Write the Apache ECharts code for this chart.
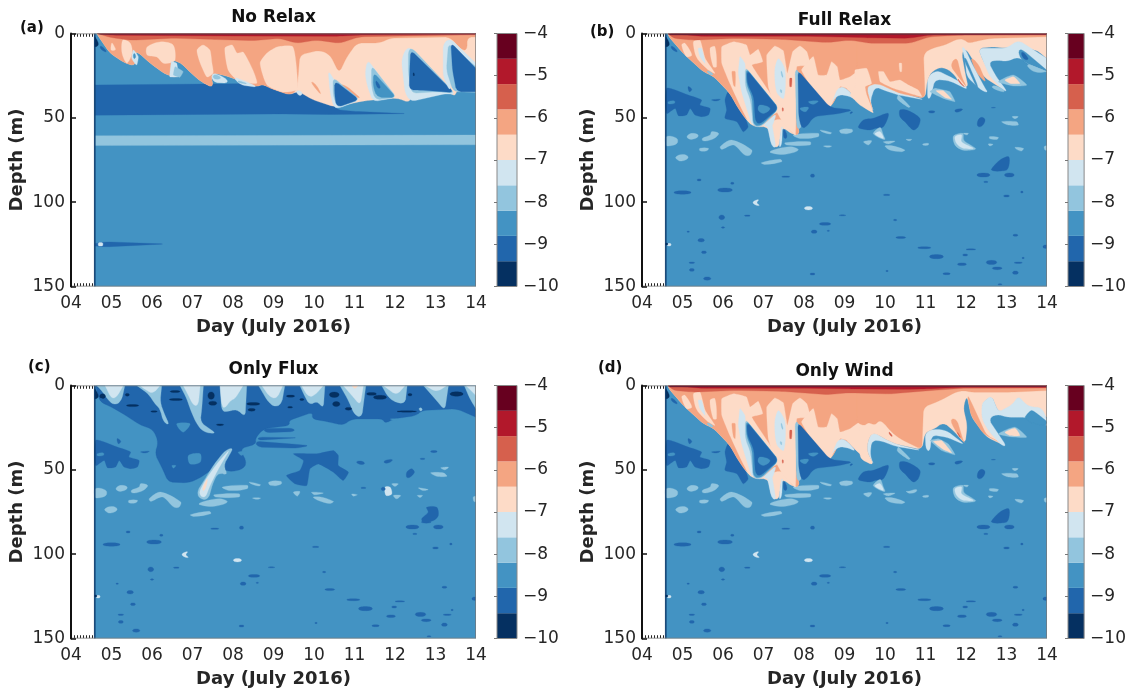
<!DOCTYPE html>
<html><head><meta charset="utf-8">
<style>html,body{margin:0;padding:0;background:#fff}#c{width:1129px;height:694px}</style>
<script src="https://cdn.jsdelivr.net/npm/echarts@6/dist/echarts.min.js"></script>
</head><body><div id="c"></div>
<script>
// ---------- labels and scales ----------
const titles = ['No Relax','Full Relax','Only Flux','Only Wind'];
const panelTags = ['(a)','(b)','(c)','(d)'];
const xName = 'Day (July 2016)';
const yName = 'Depth (m)';
const colorLevels = [-10,-9.4,-8.8,-8.2,-7.6,-7,-6.4,-5.8,-5.2,-4.6,-4];
const palette = ['#053061','#2166ac','#4393c3','#92c5de','#d1e5f0','#fddbc7','#f4a582','#d6604d','#b2182b','#67001f'];

// ---------- contour regions: [colour band, [day,depth,day,depth,...], smoothing] ----------
const baseField = [[2,[4.58,0,14,0,14,150,4.58,150]]];
const leftEdge = [[0,[4.575,0,4.6,0,4.6,150,4.575,150]],[0,[4.59,1.9,4.69,5.8,4.65,7.8,4.59,7.8]],[1,[4.73,6.8,4.9,10.8,4.82,10.8,4.71,8.8]]];
const dottedTicks = [[-2,[4,1,4.58,1]],[-2,[4,149,4.58,149]]];
const frameLine = [[-1,[4,0,14,0,14,150,4,150]]];

// small lenses shared by the runs with surface forcing: [band, day, depth, half width (days), half height (m)]
const deepSpots = [
[1,5,94.3,.21,1],[1,6.05,92.8,.18,1.2],[1,5.41,86.8,.05,.6],[1,6.23,88.8,.04,.6],[1,7.55,84.9,.1,.4],[1,8.21,84.3,.05,1],
[1,12.43,83.9,.16,1.2],[1,12.77,81,.12,.6],[1,13.07,83.9,.12,1.2],[1,12.49,88,.05,.4],[1,13,96.3,.07,.6],[1,13.38,94,.03,.6],
[1,10.04,95.7,.08,.4],[1,5.97,109,.07,1.4],[1,6.6,108,.07,.4],[1,6,115,.04,.4],[1,5.46,122.6,.08,1],[1,5.53,129.7,.06,.8],
[1,5.23,135.9,.07,.4],[1,5.23,140.2,.06,.8],[1,5.61,145.3,.09,1],[1,5.14,117.5,.03,.4],[1,8.95,107.8,.08,.3],[1,8.52,112.9,.14,.8],
[1,8.25,117.5,.07,1],[1,8.6,117,.03,.4],[1,10.25,110.6,.04,.4],[1,10.39,121,.12,.6],[1,10.97,127,.16,.6],[1,11.27,132.3,.17,1.2],
[1,12.12,128,.12,.4],[1,11.98,131.3,.06,.6],[1,11.9,136.8,.11,.8],[1,12.63,135.7,.13,1.2],[1,12.77,139.2,.12,.8],[1,13.29,135.9,.1,.4],
[1,13.41,133.1,.03,.4],[1,13.22,141.8,.07,1],[1,13.22,119.6,.06,.6],[1,13.97,126.4,.07,1],[1,11.52,142.4,.09,.6],[1,10.05,140.8,.03,.4],
[1,8.21,142.6,.06,.6],[1,12.84,148.7,.05,.3],[4,8.11,103.6,.1,1],[4,4.67,125.2,.05,.8],[0,4.61,124.8,.03,.6]];
const deepCrescent = [[4,[6.91,98.1,6.77,99.1,6.72,100.7,6.87,102.3,6.91,101.7,6.81,100.5]]];

const sharedLight = [
[3,[4.6,61.2,4.86,62.2,4.86,65.2,4.65,66.7,4.59,66.1],.4],
[3,[5.12,60.6,5.27,59.2,5.39,60.6,5.27,62.6,5.14,62.2],.5],
[3,[5.49,62.2,5.68,60.2,5.72,58.2,5.89,59.2,5.84,61.2,5.68,63.2,5.51,63.6],.4],
[3,[5.43,68.1,5.64,68.1,5.6,69.5,5.43,69.5],.4],
[3,[5.93,67.1,6.21,63.2,6.71,69.1,6.67,72.1,6.54,72.1,6.26,66.1,5.97,68.7],.3],
[3,[4.84,73.1,5.02,71.7,5.14,73.5,4.98,75.6,4.86,74.6],.5],
[3,[6.95,76.6,7.41,74.6,7.45,76,7.04,77.6],.4],
[3,[7.16,70.1,7.65,67.1,7.86,69.1,7.49,71.7],.4],
[3,[7.53,64.8,8.15,64.2,8.15,66.1,7.57,66.1],.4],
[3,[7.74,60.2,8.35,59.2,8.35,61.2,7.9,62.2],.4],
[3,[8.4,57.2,8.68,58.8,8.64,59.6,8.44,58.2],.3],
[3,[8.89,57.2,9.18,56.8,9.18,58.6,8.93,59.2],.5],
[3,[8.48,66.7,8.68,66.7,8.6,67.5],.4]];

const leftDark = [
[1,[4.61,32.5,4.82,33.5,5.14,36.5,5.47,39.4,5.43,42.4,5.68,44.4,5.64,48.3,5.47,49.3,5.31,48.3,5.19,44.4,5.1,48.3,4.9,48.7,4.82,44.4,4.61,47.4],.2],
[2,[4.65,40.4,4.8,40,4.8,41.4,4.65,41.6],.4],
[1,[5.14,31.5,5.23,33.1,5.17,34.5],.4],
[1,[5.72,39.4,5.93,39,5.84,40],.4]];

const windDark = [
[1,[6.05,39.4,6.13,34.5,6.3,39.4,6.5,47.4,6.62,55.3,6.5,58.2,6.34,52.3,6.05,50.3,6.09,45.4],.2],
[1,[9.14,46.4,9.22,46.4,9.14,48]],
[1,[9.34,55.3,9.47,51.3,9.71,50.3,10.08,47.4,9.96,55.3,9.75,56.3,9.63,57.2,9.38,56.3],.3],
[1,[10.37,45.4,10.54,45.4,10.86,50.3,10.82,55.3,10.7,57.2,10.49,52.3,10.37,49.3],.3],
[1,[11.03,45.8,11.28,45.8,11.15,47.8]],
[1,[11.69,45,11.98,44.4,11.77,47.4]],
[1,[12.6,43.8,12.76,43.8,12.67,44.4]],
[1,[12.3,51.3,12.39,49.7,12.47,51.3,12.39,54.9,12.29,54.9],.4],
[1,[12.67,79,12.84,75,13.05,73,13.07,77,13,81,12.63,81],.3],
[3,[9.71,59.2,9.88,55.7,9.96,60.2,10,62.8,9.84,61.6],.3],
[4,[9.75,59.6,9.88,58.2,9.96,62.2],.3],
[3,[9.47,64.2,9.67,63.6,9.59,66.1],.3],
[3,[9.96,64.2,10.25,63.8,10.08,65.5],.3],
[3,[10,66.7,10.21,66.7,10.49,69.1,10.41,70.1,10.12,69.1],.3],
[3,[10.52,62.8,10.66,62.8,10.6,63.6],.3],
[3,[10.93,65.5,11.07,65.1,11.07,66.1,10.95,66.3],.3],
[3,[11.69,60.8,11.92,59.2,11.95,63.4,12.24,68.4,11.93,69.2,11.73,66.2],.3],
[4,[11.73,61.2,11.89,60.2,11.89,64.2,12.18,68.1,11.93,68.1,11.77,65.2],.3],
[3,[11.93,59.2,12.06,59.2,12.02,60.2],.3],
[3,[12.58,61.2,12.8,61.6,12.76,62.8,12.59,62.4],.3],
[3,[12.55,65.5,12.67,65.7,12.59,66.7],.3],
[3,[12.88,52.3,13.25,52.3,13.29,54.3,13.05,54.3],.3],
[3,[13.14,49.3,13.29,49.3,13.21,50.5],.3],
[3,[13.21,67.5,13.42,68.1,13.37,69.7,13.25,68.7],.3],
[3,[13.93,67.1,14,66.7,14,69.1,13.95,69.1],.3],
[3,[10.33,36.5,10.62,43.4,10.58,43.8,10.37,40.4,10.3,38.5],.2]];

// upper ocean left of day 9.4 with wind on (panels b and d)
const windOutline = [4.65,0,4.65,1.5,5.02,11.8,5.51,22.6,5.76,25.2,6.17,35.5,6.38,44.4,6.58,51.3,6.75,55.3,7.12,55.3,7.2,66.1,7.37,68.1,7.45,55.3,7.74,60.2,7.9,59.6,7.8,51.3,7.78,23.6,7.86,21.7,8.07,29.6,8.35,37.5,8.64,43.8,8.77,39.4,8.89,31.5,9.05,32.5,9.38,40.4,9.38,0];
const windSalmon = [4.65,0,4.65,1.5,5.02,11.8,5.51,22.6,5.76,25.2,6.17,35.5,6.38,44.4,6.58,51.3,6.9,54,7.45,50,7.74,60.2,7.9,59.6,7.8,51.3,7.78,23.6,7.86,21.7,8.07,29.6,8.35,37.5,8.64,43.8,8.77,39.4,8.89,31.5,9.05,32.5,9.38,40.4,9.38,0];
const windLeft = [
[5,windOutline],
[4,[7.08,53.3,7.2,52.3,7.31,68.1,7.2,66.7]],
[6,windSalmon],
[5,[4.98,6.8,5.06,5.8,5.23,12.8,5.1,13.7],.3],
[5,[5.27,4.9,5.43,3.9,5.56,14.7,5.8,23.6,5.64,21.7,5.39,15.7,5.31,11.8],.2],
[4,[5.39,8.8,5.47,8.8,5.56,17.7,5.43,13.7],.2],
[3,[5.6,21.7,5.76,23.6,5.74,25,5.62,23.6]],
[5,[5.68,8.8,5.8,7.8,5.84,19.7,5.76,19.7],.3],
[5,[5.97,7.8,6.26,4.9,6.58,6.8,6.67,12.8,6.87,9.4,6.98,16.7,6.71,18.7,7.41,45.4,6.67,53.3,6.17,29.6,5.97,17.7],.1],
[6,[6.22,22.6,6.3,22.6,6.3,31.5,6.26,30.6],.2],
[5,[7.08,12.8,7.28,7.4,7.49,10.2,7.59,23.6,7.72,10.8,7.9,7.4,8.07,10.8,8.15,18.7,7.82,19.7,7.79,60.2,7.49,53.3,7.33,46.4,7.12,31.5],.1],
[4,[7.37,15,7.53,21.7,7.5,38.4,7.33,35,7.28,21.7],.3],
[3,[7.42,20.8,7.5,26,7.45,26]],
[3,[7.4,33,7.46,33.5,7.44,36]],
[7,[7.65,26.6,7.7,26.6,7.69,31.5,7.65,31.5],.2],
[7,[7.45,44,7.5,44,7.48,47]],
[5,[8.23,13.7,8.35,24.6,8.56,24.6,8.68,16.7,8.82,19.7,8.89,27.6,9.14,25.6,9.38,21.7,9.38,40.4,9.05,32.5,8.89,31.5,8.64,43.8,8.31,36.5,7.94,21.7],.1],
[4,[8.85,31.5,9.05,32.5,9.3,39.4,9.05,36.5,8.81,36.5,8.68,41.4]],
[4,[6.42,13.7,6.54,17.7,6.58,29.6,6.75,37.5,6.75,53.3,6.91,55.3,6.71,53.3,6.46,34.5,6.38,23.6],.1],
[3,[6.55,19.7,7.38,44.4,6.95,55.3,6.75,55.3,6.68,39.4,6.55,31.5]],
[2,[6.57,20.6,7.38,44.4,6.93,54.8,6.75,54.3,6.72,38,6.58,30]],
[1,[6.59,21.5,7.37,44.4,6.91,53.8,6.8,52.3,6.76,37.5,6.6,29.6]],
[2,[6.91,42.4,7.16,44.4,7,47.4,6.87,45.4],.4],
[4,[6.98,54.5,7.33,47,7.2,56,7.12,55.3]],
[3,[7.78,21.7,7.86,21.7,7.94,56.3,7.82,56.5]],
[1,[7.85,21.9,8.64,43.8,9.22,45.4,8.89,47.4,8.23,49.3,8.07,55.3,7.94,56.3,7.87,49.3]],
[2,[8.11,40.4,8.35,40,8.23,42],.4],
[2,[7.9,44.4,8.11,43.8,8.03,46.4],.4],
[1,[7.49,55.3,7.61,61.6,7.49,62.8]],
[4,[7.42,58,7.47,54,7.45,66,7.38,68]]];

const redB = [
[7,[4.65,0,14,0,14,.9,11.93,.9,11.11,1.9,10.62,5.8,9.63,5.8,9.14,3.9,8.56,5.4,7.49,3.5,6.34,2.9,5.27,3.9,4.77,2.9]],
[8,[4.7,0,14,0,14,.7,11.1,.9,10.6,2.8,9.6,2.5,8,1.6,5.5,1.7]],
[9,[4.65,0,14,0,14,.5,4.65,.9]]];
const redD = [
[7,[4.65,0,14,0,14,1.5,11.98,1.6,11.11,3,10.12,5,9.14,4.3,8.56,5.4,7.49,3.5,6.34,2.9,5.27,3.9,4.77,2.9]],
[8,[4.7,0,14,0,14,1,12,1,11,2,10.5,2.2,9.14,2,8,1.6,5.5,1.7]],
[9,[4.65,0,14,0,14,.7,4.65,.9]]];

const fullRelaxRight = [
[4,[9.59,30.5,9.63,29.6,9.96,29.6,10.33,34.5,10.99,39.4,10.33,36.5,9.96,33.5,9.75,31.5,9.63,40.4,9.73,47,9.55,36.5]],
[4,[11.05,25.6,11.28,21.7,11.6,25.6,11.93,29.6,12.06,33.5,11.6,28,11.23,27.2,11.13,37.9,11.05,39]],
[5,[9.38,42,9.71,47,9.59,36.5,9.55,32.5,9.63,30.5,9.84,29.6,10.08,32.5,10.37,35.5,10.99,38.5,11.05,26.6,11.19,21.7,11.44,19.7,11.69,23.6,11.85,29.6,12.06,32.5,11.98,23.6,11.89,11.8,11.98,8.8,12.1,12.8,12.43,25.6,13,34.5,12.67,25.6,12.43,16.7,12.3,8.8,12.67,7.8,13,8.8,13.17,6.8,13.42,8.8,13.75,9.8,13.99,14.7,14,14.7,14,0,9.38,0]],
[6,[9.3,0,9.3,20,9.38,21.7,9.38,42,9.71,47,9.59,36.5,9.55,32.5,9.63,30.5,9.84,29.6,10.08,32.5,10.37,35.5,10.99,38.5,10.95,11.8,11.15,8.8,11.48,6.8,11.81,2.9,11.98,3.9,12.06,5.8,12.3,4.3,12.6,2.9,14,1.9,14,0]],
[5,[9.26,21.7,9.55,20.7,9.67,29.6,9.51,31.5,9.55,36.5,9.71,47,9.38,42.4,9.14,36.5,9.26,31.5],.1],
[5,[9.84,22.6,9.96,22.6,10.12,28.6,10.37,27.6,10.58,30.6,10.82,33.5,10.91,37.5,10.21,32.5,9.88,28.6],.1],
[5,[10.35,17.7,10.41,17.7,10.41,22.6,10.37,22.6],.2],
[6,[11.77,13.7,11.89,25.6,12.03,32.5,11.81,25.6,11.6,18.7]],
[7,[11.78,26,11.88,29.5,12,32.4,11.84,29.5]],
[6,[12.1,13.7,12.3,17.7,12.51,29.6,12.26,23.6]],
[4,[11.89,7.4,11.99,9.4,12.1,15.7,12.47,32.5,12.55,35.1,12.39,33.9,12.02,25.6,11.98,15.7]],
[2,[11.98,13.7,12.3,31.5,12.26,31.9,11.95,15.7]],
[4,[12.3,8.8,13,8.8,13.29,3.9,13.99,14.7,14,22.6,13.58,18.7,13.29,13.7,13,16.7,12.8,15.7,12.55,16.7,12.72,24.6,13.02,34.5,12.92,33.5,12.59,25.6,12.43,16.7]],
[2,[13.29,8.8,13.46,10.8,13.99,21.7,14,22.6,13.5,17.7,13.33,14.7]],
[1,[13.35,10,13.5,13,13.55,16,13.4,15]],
[3,[13.5,17.7,14,22.6,13.75,23.6,13.54,20.7]],
[3,[12.8,28.6,13.17,24.6,13.5,30.6,13.17,31.1],.2],
[5,[12.96,27.6,13.17,25.6,13.33,29.6,13.09,29.6],.2],
[3,[12.59,31.5,12.76,30.6,13,34.5,12.84,34.5]],
[3,[11.11,34.5,11.23,32.5,11.6,34.5,11.73,40.4,11.44,38.5],.1],
[5,[11.26,33.9,11.44,33.9,11.65,39,11.48,37.9],.1]];

const onlyWindRight = [
[4,[9.59,31.6,9.71,27.3,9.92,30.6,10.25,34.6,10.91,38.6,10.25,36,9.88,32.6,9.67,32.6,9.63,41.5,9.73,47.5,9.55,38.6]],
[4,[10.99,27.7,11.23,25.7,11.52,26.7,11.98,35.2,11.52,30.6,11.15,29.3,11.11,39.1,11.01,38]],
[5,[9.38,43.5,9.73,47.5,9.55,38.6,9.59,31.6,9.71,27.7,9.92,30.6,10.25,34.6,10.91,38,10.99,27.7,11.23,25.7,11.44,21.7,11.69,26.7,11.98,34.6,12.03,23.7,11.93,12.9,12.02,5.9,12.14,18.8,12.51,30.6,12.96,35.6,12.63,25.7,12.43,17.8,12.39,10.9,12.63,5.9,12.8,15.8,13,16.8,13.17,11.9,13.5,13.8,13.99,18.8,14,18.8,14,0,9.38,0]],
[6,[9.3,0,14,0,14,2.97,13.09,3.95,12.1,3.95,11.98,3,11.77,3.6,11.36,8.9,10.95,12.9,10.91,38,10.37,31.6,10.12,26.7,9.96,21.7,9.84,20.8,9.75,23.7,9.59,21.7,9.51,23.7,9.38,23,9.3,21]],
[6,[11.6,19.8,11.77,19.8,11.93,32.6,11.98,34.6,11.73,26.7]],
[7,[11.77,26.7,11.89,31.6,11.81,29.7]],
[7,[10.08,26.7,10.21,30.6,10.12,29.7]],
[6,[12.03,5,12.17,11.9,12.51,29.7,12.96,35.2,12.43,28.7,12.12,17.8]],
[4,[12.39,10.9,12.47,8.9,12.63,5.9,12.8,15.8,12.96,13.8,13.17,10.9,13.29,5.9,13.46,10.9,13.62,12.9,13.87,12.9,13.99,19.8,14,23.7,13.75,21.7,13.5,18.8,13.25,18.8,13,18.8,12.76,16.8,12.55,19.8,13,36,12.88,35.6,12.55,26.7,12.39,19.8]],
[2,[13.46,18.8,13.62,14.8,13.87,18.8,14,21.7,13.95,23.7,13.58,21.7],.2],
[3,[12.8,28.7,13.21,24.7,13.5,30.6,13.17,30.6],.2],
[5,[12.96,27.7,13.21,25.3,13.33,29.7,13.09,29.7],.2],
[3,[11.11,32.6,11.32,31.6,11.56,34.6,11.73,41.1,11.4,38.6],.1],
[5,[11.19,33.2,11.4,32.6,11.65,39.9,11.44,37.9],.1],
[3,[10.49,63.6,10.82,60.9,10.74,64.2]]];

// panel (a)
const noRelaxField = [
[1,[4.6,30.5,9.5,29.5,10.4,30,10.53,45,11,46.2,12.3,47.5,10.4,48,9.16,47.7,4.6,48.4]],
[3,[4.6,60.6,14,60.2,14,66,4.6,66.4]],
[1,[4.6,124.5,4.85,123.5,6.33,124.8,4.85,126.5,4.6,126]],
[4,[4.68,124.2,4.78,124.2,4.78,125.8,4.68,125.8],.3],
[5,[4.64,0,4.64,.3,4.96,11.6,5.33,17.5,5.6,19.3,5.56,11.6,5.65,11,5.95,17.5,6.32,24,6.64,26.4,6.49,18.7,6.47,15.7,6.69,16.9,6.94,22.8,7.19,28.2,7.51,32.3,7.46,24.6,7.56,23.4,7.93,25.8,8.3,29.4,8.59,31.7,8.72,29.9,8.91,32.3,9.41,36.5,9.6,34.1,9.98,39.4,10.52,43.6,11.21,40,12.05,38.2,12.37,41.2,12.42,33.5,13.3,33.5,13.48,37.7,13.52,33.5,14,33.5,14,0]],
[6,[4.64,0,4.64,.3,4.96,11.6,5.33,17.5,5.6,19.3,5.56,11.6,5.65,11,5.95,17.5,6.32,24,6.64,26.4,6.49,18.7,6.47,15.7,6.69,16.9,6.94,22.8,7.19,28.2,7.51,32.3,7.46,24.6,7.56,23.4,7.93,25.8,8.3,29.4,8.59,31.7,8.72,29.9,8.91,32.3,9.41,36.5,9.58,33.5,9.65,12.7,10.15,9.8,10.4,12.7,10.62,23.4,10.81,13.9,11.06,5.6,11.63,5.6,11.88,2.7,13.36,2.1,13.65,9.8,13.78,9.8,13.78,2.1,14,2.1,14,0]],
[5,[5.01,5.6,5.09,8.6,5.09,9.8,4.99,9.8],.3],
[5,[5.28,3.9,5.46,5.6,5.51,11.6,5.38,17.5,5.26,11.6],.3],
[5,[5.88,8,6.2,5,6.52,6.8,6.57,15.7,6.44,17.5,6.27,17.5,6.12,13.9,5.88,12.7],.3],
[5,[7.11,9.8,7.26,6.8,7.43,9.8,7.48,17.5,7.51,23.4,7.36,25.8,7.19,17.5],.2],
[5,[7.8,8.6,7.98,6.8,8.1,11.6,8.25,11,8.49,21.6,8.59,29.4,8.37,29.4,8.1,27.6,7.88,21.6],.2],
[5,[8.67,17.5,8.84,11.6,9.09,8,9.48,8,9.6,29.4,9.58,33.5,9.23,34.7,8.84,30.5],.2],
[6,[9.9,28,10.05,30,10.2,37,10.05,33]],
[6,[10.62,30,10.8,31,11.18,39,10.8,35]],
[4,[5.54,9.8,5.66,13.7,5.62,18.7,5.5,14.7],.2],
[2,[5.54,10.8,5.62,13.7,5.54,15.7]],
[4,[6.48,16.7,6.61,17.7,6.65,25.6,6.44,25.6],.1],
[3,[6.57,19.7,6.77,22.6,6.69,26,6.53,24.6],.1],
[4,[7.46,23,7.8,26,7.9,29.5,7.5,29]],
[3,[7.51,23.6,7.76,26.6,7.51,27.6]],
[4,[8,25.6,8.34,28.6,8.62,31.9,8.17,30.5]],
[3,[8.1,27.6,8.4,30,8.15,29.5]],
[4,[9.53,33.5,9.74,34.5,9.65,37.9]],
[4,[10.35,21.7,10.52,28.6,11.14,39.4,10.6,44.4,10.48,43.4,10.39,33.5]],
[3,[10.47,26,11.13,39.2,10.58,44,10.47,36.5]],
[1,[10.51,28,11.12,39.2,10.56,43.8,10.51,36.5]],
[4,[11.32,15.7,11.46,19.7,11.63,25.6,12.04,37.9,11.46,40.4,11.32,31.5,11.26,23.6]],
[3,[11.42,19,12.04,37.9,11.51,39.4,11.42,31.5]],
[2,[11.47,23,12.03,37.9,11.56,37.9,11.46,31.5]],
[1,[11.51,26.6,11.67,32.5,11.55,32.5]],
[4,[12.16,15.7,12.27,8.8,12.41,8.8,13.5,36.5,13.27,35.5,12.39,40.4,12.25,35.5]],
[3,[12.33,9.8,12.43,8.8,13.48,35.5,13.03,34.5,12.41,35.5,12.33,23.6]],
[1,[12.39,9.8,13.46,35,12.58,33.5,12.35,33.5,12.37,17.7]],
[0,[12.45,22.6,12.49,24.6,12.45,25.6]],
[4,[13.19,5.8,13.36,2.9,14,17.7,14,21.7,13.44,7.8,13.36,34.5,13.19,25.6]],
[3,[13.32,5.8,14,19.7,14,35,13.44,34.5,13.27,21.7]],
[1,[13.38,5.4,14,20.7,14,34.5,13.52,34.5,13.42,21.7]],
[7,[4.64,0,14,0,14,.8,11.13,1.9,10.64,5.8,10.06,3.9,9.57,5.8,9.16,2.9,8.5,4.2,7.5,3.5,6.5,2.8,5.5,4,5,2.5]],
[8,[4.7,0,14,0,14,.5,11.2,.9,10.6,1.6,8,1.5,5,1]],
[9,[4.65,0,14,0,14,.3,4.7,.6]]];

// panel (c)
const onlyFluxField = [
[1,[4.62,0,4.62,1.6,4.72,9.9,4.96,12.3,5.25,16.2,5.7,23.3,6.03,26.1,6.16,33.6,6.07,40.5,6.28,50.4,6.4,57.3,6.9,57.7,7.14,55.4,7.39,51.4,7.6,47.5,7.92,51.4,8.26,49.4,8.34,45.5,8.17,37.6,8.58,34.6,8.54,31.6,8.75,25.7,9.41,23.7,9.37,20.8,9.98,15.8,9.94,19.8,10.39,21.7,10.72,23.7,10.93,19.8,11.71,19.8,11.75,22.7,11.96,19.8,12.53,17.8,12.66,14.8,13.52,13.8,14,18.8,14,0]],
[1,[8.75,25.5,9.49,25.3,9.53,27.3,8.8,28]],
[1,[8.62,30.6,9.61,31,8.62,32.5]],
[1,[8.55,33,9.41,34.6,9.9,35.6,9.57,37.2,8.6,36.5]],
[1,[9.49,40.5,10.07,40.5,10.48,38.6,10.6,41.5,10.6,47.5,10.85,51.4,10.72,56.3,10.48,51.4,10.11,46.5,9.9,49.4,9.82,59.3,9.53,58.3,9.32,53.4,9.65,50.4,9.74,44.5],.15],
[2,[6.61,22.7,6.94,22.7,6.77,27.7],.3],
[2,[6.9,41.5,7.19,40.5,7.19,45.5,6.94,46.5],.3],
[2,[8.13,39.5,8.34,39.2,8.21,41.5],.3],
[2,[6.49,47.5,6.59,47.5,6.53,49],.3],
[2,[11.88,19.8,12.08,19.8,12,20.8],.3],
[3,[12.58,12.8,12.7,13.8,12.62,15.8]],
[3,[4.63,0,5.33,0,5.25,8.9,5.09,11.9,4.92,8.9,4.76,3]],
[4,[4.84,0,5.29,0,5.13,6.9,5,7.9]],
[3,[5.62,0,6.24,0,6.2,9.9,6.32,17.8,6.44,23.7,6.28,21.7,6.2,13.8,6.07,10.9,5.91,4.9]],
[4,[5.7,0,6.2,0,6.03,4.9,5.87,3]],
[3,[6.69,0,7.27,0,7.23,13.8,7.19,21.7,7.6,28.7,7.27,27.7,7.1,22.7,6.94,13.8,6.86,7.9]],
[4,[6.77,0,7.19,0,7.14,11.9,7.02,11.9,6.9,5.9]],
[3,[7.68,0,8.34,0,8.3,18.8,8.09,13.8,7.84,15.8,7.72,14.8]],
[4,[7.68,0,8.25,0,8.05,7.9,7.93,8.9,7.8,13.8,7.72,11.9]],
[3,[8.63,0,9.28,0,9.2,10.9,9.04,12.9,8.87,9.9]],
[4,[8.71,0,9.23,0,9.08,7.9,8.91,6.9]],
[3,[9.65,0,10.27,0,10.23,13.8,10.07,8.9,9.9,11.9,9.78,6.9]],
[4,[9.69,0,10.23,0,10.02,5.9,9.86,6.9]],
[3,[10.64,0,11.28,0,11.18,18.8,11.01,17.8,10.85,8.9]],
[4,[10.72,0,11.22,0,11.14,11.9,10.97,6.9]],
[5,[10.93,0,11.09,0,11.01,2.4]],
[3,[11.67,0,12.3,0,12.25,10.9,12,9.9,11.83,6.9]],
[4,[11.71,0,12.25,0,12.04,5.9]],
[3,[12.7,0,13.32,0,13.23,14.8,12.99,7.9]],
[4,[12.74,0,13.28,0,13.03,3.95]],
[3,[13.71,0,14,0,14,13.8,13.85,7.9]],
[4,[13.75,0,14,0,14,6]],
[3,[8.01,36.6,7.8,38.6,7.51,47.5,7.31,55.4,7.1,63.3,7.19,67.6,7.39,67.6,7.51,57.3,7.64,51.4,7.88,53.4,7.76,47.5,7.93,40.5]],
[4,[7.93,37.6,7.6,46.5,7.31,56.3,7.14,64.3,7.31,67.2,7.43,59.3,7.64,49.4]],
[5,[7.31,57.3,7.39,54.4,7.31,62.3,7.23,62.3]],
[3,[9.49,63.3,9.65,62.9,9.59,65.6],.3],
[3,[9.94,63.3,10.23,63.7,10.02,64.8],.3],
[3,[9.98,66.2,10.19,66.2,10.48,68.8,10.39,70,10.11,68.2],.3],
[3,[10.93,64.3,11.07,64.8,10.97,65.6],.3],
[3,[11.92,58.3,12.08,58.3,12,59.9],.3],
[3,[11.96,65.2,12.14,65.2,12.04,67.2],.3],
[4,[11.75,60.3,11.88,60.3,11.92,64.3,11.78,65.2],.3],
[3,[12.58,60.7,12.82,61.7,12.7,62.3],.3],
[3,[12.55,65.2,12.68,65.2,12.62,66.4],.3],
[3,[12.88,51.8,13.19,51.8,13.28,53.8,13.03,53.8],.3],
[3,[13.13,48.8,13.32,48.4,13.23,50],.3],
[3,[13.93,66.2,14,65.8,14,68.8,13.95,68.8],.3],
[1,[11.01,45.1,11.18,44.5,11.28,46.5,11.14,47.1]],
[1,[11.69,44.5,12,43.5,11.79,46.9]],
[1,[12.29,51.4,12.41,49.4,12.48,51.4,12.37,54.4,12.29,54.4],.3],
[1,[12.66,79,12.82,75.1,12.78,72.2,13.03,72.2,13.07,77.1,12.95,80.1,12.7,81.1],.3]];
const fluxSpots = [
[0,4.78,6.3,.07,1.4],[0,5.39,5.5,.05,.8],[0,5.52,11.9,.15,.6],[0,6.05,15.4,.08,.4],[0,6.57,3.6,.12,.6],[0,6.59,8.3,.16,.6],
[0,7.46,6,.08,2.2],[0,7.5,10.5,.1,1.2],[0,8.5,10.9,.16,.8],[0,8.46,14.4,.09,.8],[0,7.68,23.3,.09,.5],[0,9.42,6.3,.1,.6],[0,9.7,8.3,.05,.6],
[0,10.5,5.5,.12,1.6],[0,10.55,11,.09,1.5],[0,10.85,13.8,.08,.8],[0,11.42,5,.12,.8],[0,11.63,7,.16,1.2],[0,12.29,15.4,.24,.4],[0,13.52,5,.16,1.3],
[0,12.37,5.5,.05,.7],[0,9.41,12.9,.06,.5],[1,12.96,39.2,.08,.6],[1,12.68,43.5,.06,.4],[1,11.22,60.7,.06,.4],[1,11.71,61.3,.05,1]];

function spotLayers(list){
  return list.map(s=>[s[0],[s[1]-s[3],s[2],s[1],s[2]-s[4],s[1]+s[3],s[2],s[1],s[2]+s[4]],.6]);
}
const deepCommon = [...spotLayers(deepSpots),...deepCrescent];
const panelLayers = [
  [...baseField,...noRelaxField,...leftEdge,...dottedTicks,...frameLine],
  [...baseField,...leftDark,...windDark,...sharedLight,...deepCommon,...windLeft,...fullRelaxRight,...redB,...leftEdge,...dottedTicks,...frameLine],
  [...baseField,...leftDark,...sharedLight,...deepCommon,...onlyFluxField,...spotLayers(fluxSpots),...leftEdge,...dottedTicks,...frameLine],
  [...baseField,...leftDark,...windDark,...sharedLight,...deepCommon,...windLeft,...onlyWindRight,...redD,...leftEdge,...dottedTicks,...frameLine]
];

// ---------- layout ----------
const gridPos = [[71,33.5],[642,33.5],[71,385.5],[642,385.5]];
const barPos = [[497,33.5],[1068,33.5],[497,385.5],[1068,385.5]];
const plotW = 405, plotH = 253, barW = 20;
const tagPos = [[20,21],[590,25],[28,360],[598,361]];
const titleCx = [273.5,844.5,273.5,844.5];
const titleTop = [9,12,361,363];
const ink = '#262626';
const font = 'DejaVu Sans';

// round polygon corners a little so that contour edges read as curves; corners on the plot edge stay put
function rounded(pts, api){
  const tr = api.coord([14,0]), fieldLeft = api.coord([4.62,150])[0];
  const fixed = p => p[0] >= tr[0]-.5 || p[1] <= tr[1]+.5 || p[0] <= fieldLeft;
  let out = pts;
  [3,1.5].forEach(c=>{
    const next = [];
    out.forEach((p,i)=>{
      if(fixed(p)){ next.push(p); return; }
      const a = out[(i-1+out.length)%out.length], b = out[(i+1)%out.length];
      const da = Math.hypot(a[0]-p[0],a[1]-p[1])||1, db = Math.hypot(b[0]-p[0],b[1]-p[1])||1;
      const ta = Math.min(.3,c/da), tb = Math.min(.3,c/db);
      next.push([p[0]+(a[0]-p[0])*ta,p[1]+(a[1]-p[1])*ta]);
      next.push([p[0]+(b[0]-p[0])*tb,p[1]+(b[1]-p[1])*tb]);
    });
    out = next;
  });
  return out;
}
function fieldRender(layers){
  return function(params, api){
    const l = layers[params.dataIndex];
    const pts = [];
    for(let i=0;i<l[1].length;i+=2) pts.push(api.coord([l[1][i],l[1][i+1]]));
    if(l[0]===-1) return {type:'polyline',shape:{points:[pts[0],pts[1],pts[2],pts[3]]},style:{fill:null,stroke:'#777',lineWidth:1.4}};
    if(l[0]===-2) return {type:'polyline',shape:{points:pts},style:{fill:null,stroke:'#222',lineWidth:3,lineDash:[1,2]}};
    const shape = l[2] ? {points:pts,smooth:l[2]} : {points:rounded(pts,api)};
    return {type:'polygon',shape,style:{fill:palette[l[0]],stroke:palette[l[0]],lineWidth:.3}};
  };
}
function barRender(params, api){
  const i = params.dataIndex;
  const a = api.coord([0,colorLevels[i]]), b = api.coord([1,colorLevels[i+1]]);
  return {type:'rect',shape:{x:a[0],y:b[1],width:b[0]-a[0],height:a[1]-b[1]},style:{fill:palette[i]}};
}

const option = {animation:false,backgroundColor:'#fff',grid:[],xAxis:[],yAxis:[],series:[],title:[],textStyle:{fontFamily:font}};
titles.forEach((t,i)=>{
  const [gx,gy] = gridPos[i], [bx,by] = barPos[i];
  option.grid.push({left:gx,top:gy,width:plotW,height:plotH,show:false});
  option.grid.push({left:bx,top:by,width:barW,height:plotH,show:true,borderColor:'#888',borderWidth:1,backgroundColor:'transparent',z:5});
  option.xAxis.push({gridIndex:2*i,type:'value',min:4,max:14,interval:1,z:10,
    axisLine:{show:false},axisTick:{show:false},splitLine:{show:false},
    axisLabel:{color:ink,fontSize:17,fontFamily:font,margin:9,formatter:v=>String(v).padStart(2,'0')},
    name:xName,nameLocation:'middle',nameGap:32,nameTextStyle:{color:ink,fontSize:18,fontWeight:'bold',fontFamily:font}});
  option.yAxis.push({gridIndex:2*i,type:'value',inverse:true,min:0,max:150,interval:50,z:10,
    axisLine:{show:true,onZero:false,lineStyle:{color:'#111',width:2}},
    axisTick:{show:true,inside:true,length:5,lineStyle:{color:'#111',width:1.5}},splitLine:{show:false},
    axisLabel:{color:ink,fontSize:17,fontFamily:font,margin:6,padding:[4,0,0,0]},
    name:yName,nameLocation:'middle',nameGap:45,nameTextStyle:{color:ink,fontSize:18,fontWeight:'bold',fontFamily:font}});
  option.xAxis.push({gridIndex:2*i+1,type:'value',min:0,max:1,show:false});
  option.yAxis.push({gridIndex:2*i+1,type:'value',position:'right',min:-10,max:-4,interval:1,z:10,
    axisLine:{show:false},axisTick:{show:true,inside:true,length:3,lineStyle:{color:'#777'}},splitLine:{show:false},
    axisLabel:{color:ink,fontSize:17,fontFamily:font,margin:6,padding:[4,0,0,0],formatter:v=>String(v).replace('-','\u2212')}});
  const layers = panelLayers[i];
  option.series.push({type:'custom',xAxisIndex:2*i,yAxisIndex:2*i,silent:true,clip:true,z:2,
    data:layers.map((_,k)=>[k]),encode:{x:[],y:[]},renderItem:fieldRender(layers)});
  option.series.push({type:'custom',xAxisIndex:2*i+1,yAxisIndex:2*i+1,silent:true,z:2,
    data:palette.map((_,k)=>[k]),encode:{x:[],y:[]},renderItem:barRender});
  option.title.push({text:t,left:titleCx[i],top:titleTop[i],textAlign:'center',padding:0,
    textStyle:{color:'#111',fontSize:17,fontWeight:'bold',fontFamily:font}});
  option.title.push({text:panelTags[i],left:tagPos[i][0],top:tagPos[i][1],padding:0,
    textStyle:{color:'#111',fontSize:15,fontWeight:'bold',fontFamily:font}});
});
const chart = echarts.init(document.getElementById('c'),null,{renderer:'canvas',width:1129,height:694});
chart.setOption(option);
</script></body></html>
